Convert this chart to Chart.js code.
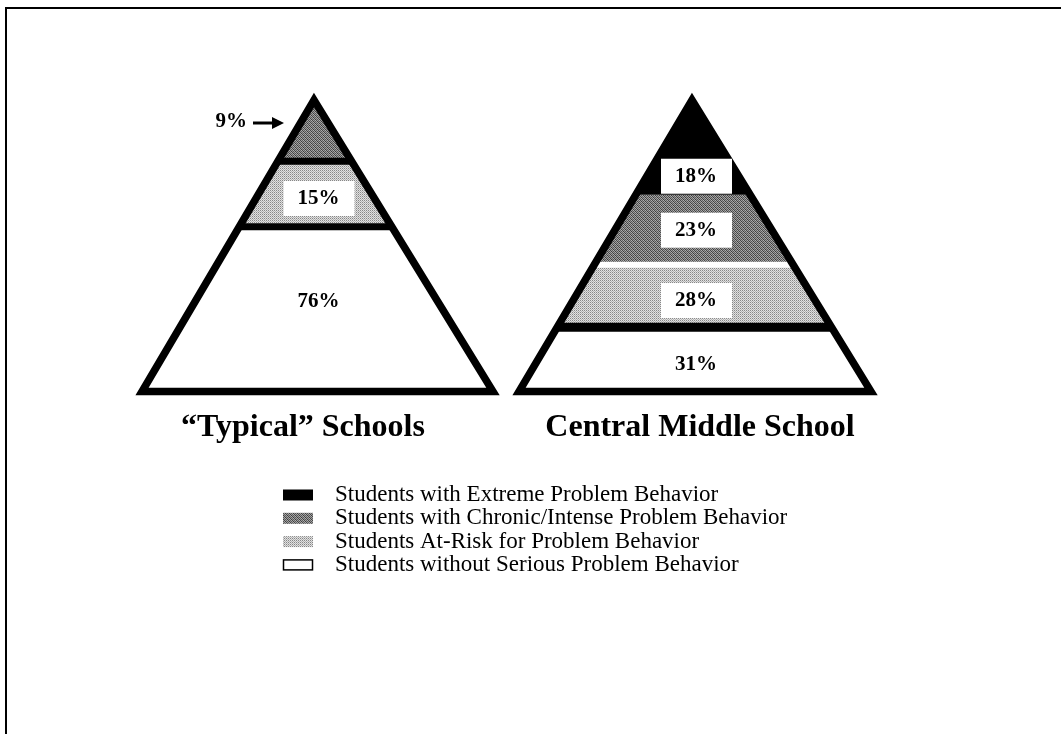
<!DOCTYPE html>
<html><head><meta charset="utf-8">
<script src="https://cdn.jsdelivr.net/npm/chart.js@4.4.0/dist/chart.umd.min.js"></script>
<style>
html,body{margin:0;padding:0;background:#fff;}
#wrap{position:relative;width:1061px;height:734px;overflow:hidden;background:#fff;}
#frame{position:absolute;left:5px;top:7px;width:1200px;height:900px;border-top:2px solid #000;border-left:2px solid #000;}
canvas{position:absolute;left:0;top:0;}
</style></head><body>
<div id="wrap"><div id="frame"></div><canvas id="c" width="1061" height="734"></canvas></div>
<script>
// ---- data ----
const tierCategories = [
  "Students with Extreme Problem Behavior",
  "Students with Chronic/Intense Problem Behavior",
  "Students At-Risk for Problem Behavior",
  "Students without Serious Problem Behavior"
];
const schoolNames = ["\u201CTypical\u201D Schools", "Central Middle School"];
const typicalTierCats = [1, 2, 3];
const typicalPercents = [9, 15, 76];
const centralTierCats = [0, 1, 2, 3];
const centralPercents = [18, 23, 28, 31];
// tier boundaries as fraction of pyramid height from the apex
const typicalTierEdges = [0.21, 0.435];
const centralTierEdges = [0.325, 0.565, 0.78];

// ---- layout / style ----
const geom = [
  {apexX: 314, apexY: 100, baseY: 391.5, leftX: 142, rightX: 493, titleX: 303},
  {apexX: 692, apexY: 100, baseY: 391.5, leftX: 519, rightX: 871, titleX: 700}
];
const outlineWidth = 7.5;
const separators = [
  [{color: '#000', width: 7}, {color: '#000', width: 7}],
  [null, {color: '#fff', width: 6}, {color: '#000', width: 9}]
];
const labelModes = [
  [{mode: 'arrow'}, {mode: 'box', dy: 4}, {mode: 'plain', dy: -9}],
  [{mode: 'box', anchor: 'bottom'}, {mode: 'box', dy: 0}, {mode: 'box', dy: 4}, {mode: 'plain', dy: 4}]
];
const titleY = 428;
const legendRows = {x: 283, textX: 335, y0: 494, dy: 23.3, w: 30, h: 11};

const canvas = document.getElementById('c');
const ctx0 = canvas.getContext('2d');
function makePattern(m) {
  const n = m.length, c = document.createElement('canvas');
  c.width = n; c.height = n;
  const cx = c.getContext('2d'), img = cx.createImageData(n, n);
  for (let i = 0; i < n; i++) for (let j = 0; j < n; j++) {
    const k = (i * n + j) * 4, v = m[i][j];
    img.data[k] = img.data[k + 1] = img.data[k + 2] = v; img.data[k + 3] = 255;
  }
  cx.putImageData(img, 0, 0);
  return ctx0.createPattern(c, 'repeat');
}
const darkPat = makePattern([[70,160,95,175],[165,60,150,85],[95,175,70,160],[150,85,165,60]]);
const lightPat = makePattern([[135,225],[225,178]]);
const catFills = ['#000', darkPat, lightPat, '#fff'];

const pyramids = [
  {cats: typicalTierCats, vals: typicalPercents, edges: typicalTierEdges},
  {cats: centralTierCats, vals: centralPercents, edges: centralTierEdges}
];

function edgePt(g, side, t) {
  const x0 = side < 0 ? g.leftX : g.rightX;
  return {x: g.apexX + (x0 - g.apexX) * t, y: g.apexY + (g.baseY - g.apexY) * t};
}
function tierRange(p, i) {
  const b = [0, ...p.edges, 1];
  return [b[i], b[i + 1]];
}

const datasets = [];
pyramids.forEach((p, pi) => {
  const g = geom[pi];
  p.vals.forEach((v, i) => {
    const [t0, t1] = tierRange(p, i);
    const pts = [edgePt(g, -1, t0), edgePt(g, 1, t0), edgePt(g, 1, t1), edgePt(g, -1, t1), edgePt(g, -1, t0)];
    datasets.push({
      label: tierCategories[p.cats[i]] + ' ' + v + '%',
      data: pts, fill: 'shape', backgroundColor: catFills[p.cats[i]],
      borderWidth: 0, borderColor: 'rgba(0,0,0,0)', pointRadius: 0, tension: 0, order: 3
    });
  });
  p.edges.forEach((t, i) => {
    const s = separators[pi][i];
    if (!s) return;
    datasets.push({
      data: [edgePt(g, -1, t), edgePt(g, 1, t)], fill: false,
      borderColor: s.color, borderWidth: s.width, borderCapStyle: 'butt',
      pointRadius: 0, tension: 0, order: 2
    });
  });
  const bm = {x: (g.leftX + g.rightX) / 2, y: g.baseY};
  datasets.push({
    data: [bm, edgePt(g, 1, 1), edgePt(g, 1, 0), edgePt(g, -1, 1), bm, {x: bm.x + 20, y: g.baseY}],
    fill: false, borderColor: '#000', borderWidth: outlineWidth, borderJoinStyle: 'miter',
    borderCapStyle: 'butt', pointRadius: 0, tension: 0, order: 1
  });
});

const annot = {
  id: 'annot',
  afterDatasetsDraw(chart) {
    const c = chart.ctx, X = v => chart.scales.x.getPixelForValue(v), Y = v => chart.scales.y.getPixelForValue(v);
    c.save();
    c.textAlign = 'center'; c.textBaseline = 'middle';
    pyramids.forEach((p, pi) => {
      const g = geom[pi];
      p.vals.forEach((v, i) => {
        const [t0, t1] = tierRange(p, i);
        const lm = labelModes[pi][i];
        const yTop = g.apexY + (g.baseY - g.apexY) * t0, yBot = g.apexY + (g.baseY - g.apexY) * t1;
        let cy = (yTop + yBot) / 2 + (lm.dy || 0);
        const txt = v + '%';
        c.font = "bold 21px 'Liberation Serif', 'Times New Roman', serif";
        c.fillStyle = '#000';
        if (lm.mode === 'arrow') {
          const yy = g.apexY + 22;
          c.textAlign = 'right';
          c.fillText(txt, X(g.apexX - 67), Y(yy));
          c.textAlign = 'center';
          c.strokeStyle = '#000'; c.lineWidth = 3;
          c.beginPath(); c.moveTo(X(g.apexX - 61), Y(yy + 1)); c.lineTo(X(g.apexX - 40), Y(yy + 1)); c.stroke();
          c.beginPath(); c.moveTo(X(g.apexX - 30), Y(yy + 1)); c.lineTo(X(g.apexX - 42), Y(yy - 5)); c.lineTo(X(g.apexX - 42), Y(yy + 7)); c.closePath(); c.fill();
          return;
        }
        const cx = (g.leftX + g.rightX) / 2 + 1;
        if (lm.anchor === 'bottom') cy = yBot - 19;
        if (lm.mode === 'box') {
          c.fillStyle = '#fff';
          c.fillRect(X(cx - 35), Y(cy - 17), 71, 35);
          c.fillStyle = '#000';
        }
        c.fillText(txt, X(cx), Y(cy + 1));
      });
      c.font = "bold 32px 'Liberation Serif', 'Times New Roman', serif";
      c.fillText(schoolNames[pi], X(g.titleX), Y(titleY));
    });
    // legend
    c.textAlign = 'left';
    c.font = "23px 'Liberation Serif', 'Times New Roman', serif";
    tierCategories.forEach((name, i) => {
      const y = legendRows.y0 + i * legendRows.dy;
      c.fillStyle = catFills[i];
      c.fillRect(legendRows.x, y - legendRows.h / 2 + 1, legendRows.w, legendRows.h);
      if (i === 3) { c.strokeStyle = '#000'; c.lineWidth = 1.5; c.strokeRect(legendRows.x + 0.5, y - legendRows.h / 2 + 1.5, legendRows.w - 1, legendRows.h - 1); }
      c.fillStyle = '#000';
      c.fillText(name, legendRows.textX, y + 1);
    });
    c.restore();
  }
};

new Chart(canvas, {
  type: 'line',
  data: {datasets},
  options: {
    responsive: false, animation: false, devicePixelRatio: 1,
    layout: {padding: 0},
    scales: {
      x: {type: 'linear', min: 0, max: 1061, display: false},
      y: {type: 'linear', min: 0, max: 734, reverse: true, display: false}
    },
    plugins: {legend: {display: false}, tooltip: {enabled: false}}
  },
  plugins: [annot]
});
</script>
</body></html>
